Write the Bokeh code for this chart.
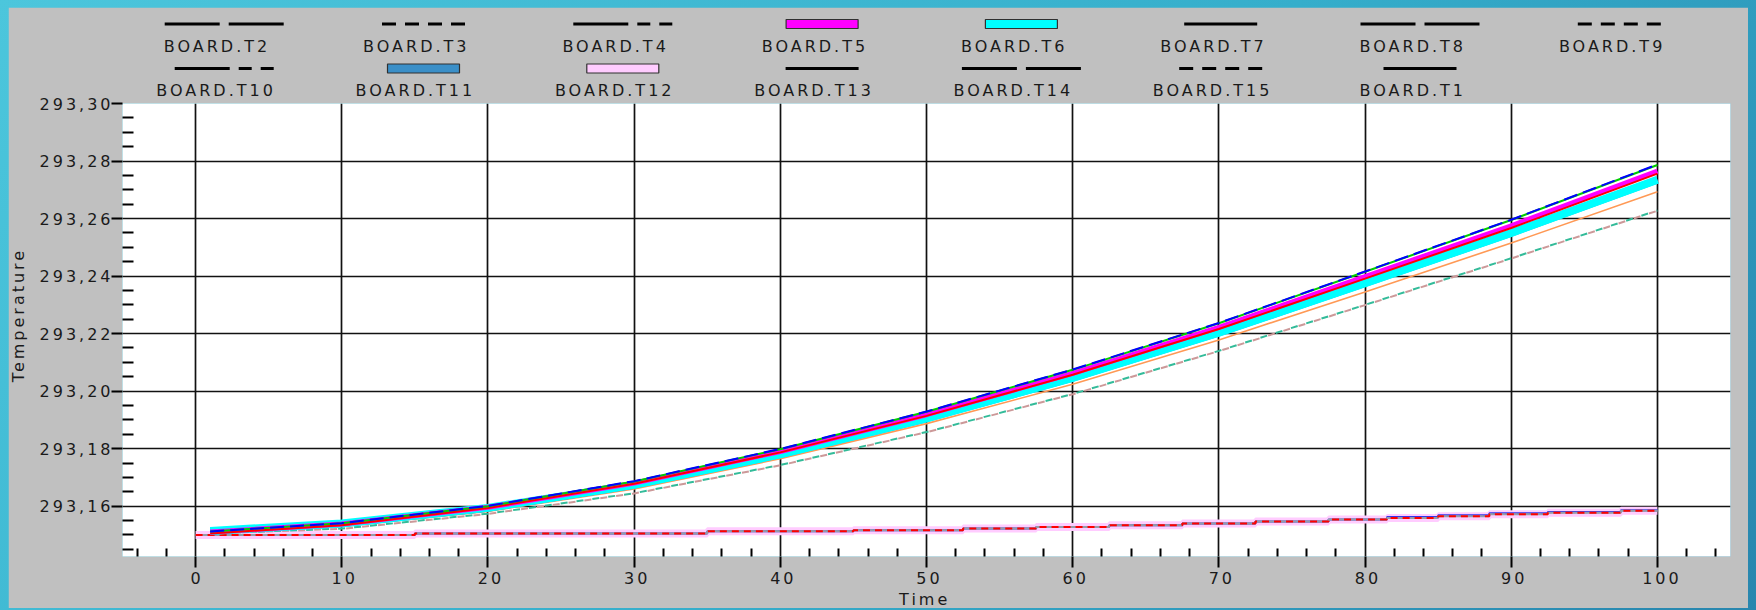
import math
from bokeh.plotting import figure
from bokeh.models import Range1d, FixedTicker, InlineStyleSheet
from bokeh.embed import file_html
from bokeh.resources import INLINE
from bokeh.core.properties import value

# ---------------- data ----------------
x_ticks = [0, 10, 20, 30, 40, 50, 60, 70, 80, 90, 100]
x_tick_labels = ["0", "10", "20", "30", "40", "50", "60", "70", "80", "90", "100"]
y_ticks = [293.16, 293.18, 293.20, 293.22, 293.24, 293.26, 293.28, 293.30]
y_tick_labels = ["293,16", "293,18", "293,20", "293,22", "293,24", "293,26", "293,28", "293,30"]
x_title = "Time"
y_title = "Temperature"

legend_row1 = ["BOARD.T2", "BOARD.T3", "BOARD.T4", "BOARD.T5", "BOARD.T6", "BOARD.T7", "BOARD.T8", "BOARD.T9"]
legend_row2 = ["BOARD.T10", "BOARD.T11", "BOARD.T12", "BOARD.T13", "BOARD.T14", "BOARD.T15", "BOARD.T1"]

# upper group (smooth rise)
upper_x = [1, 10, 20, 30, 40, 50, 60, 70, 80, 90, 100]
t2 = [293.1512, 293.1541, 293.1601, 293.1687, 293.1799, 293.1929, 293.2075, 293.2237, 293.2416, 293.2596, 293.2788]
t8 = [293.1512, 293.1541, 293.1600, 293.1686, 293.1798, 293.1928, 293.2074, 293.2236, 293.2415, 293.2595, 293.2786]
t5 = [293.1510, 293.1538, 293.1596, 293.1680, 293.1790, 293.1918, 293.2062, 293.2222, 293.2398, 293.2575, 293.2765]
t7 = [293.1505, 293.1534, 293.1594, 293.1678, 293.1787, 293.1914, 293.2057, 293.2216, 293.2391, 293.2567, 293.2756]
t11 = [293.1513, 293.1539, 293.1593, 293.1673, 293.1779, 293.1904, 293.2045, 293.2202, 293.2374, 293.2549, 293.2734]
t6 = [293.1514, 293.1540, 293.1594, 293.1674, 293.1780, 293.1905, 293.2046, 293.2203, 293.2375, 293.2550, 293.2735]
t13 = [293.1508, 293.1530, 293.1582, 293.1660, 293.1765, 293.1887, 293.2024, 293.2178, 293.2345, 293.2515, 293.2693]
t9 = [293.1505, 293.1522, 293.1574, 293.1645, 293.1743, 293.1858, 293.1990, 293.2140, 293.2300, 293.2462, 293.2628]
t3 = [293.1505, 293.1521, 293.1573, 293.1644, 293.1742, 293.1857, 293.1989, 293.2139, 293.2299, 293.2461, 293.2627]

# lower group (stepped, slow rise)
lower_x = [0, 15, 35, 45, 52.5, 57.5, 62.5, 67.5, 72.5, 77.5, 81.5, 85, 88.5, 92.5, 97.5, 100]
t12 = [293.1500, 293.1505, 293.1513, 293.1516, 293.1522, 293.1528, 293.1534, 293.1540, 293.1547, 293.1554, 293.1559, 293.1565, 293.1572, 293.1577, 293.1584, 293.1584]
t14 = [293.1500, 293.1505, 293.1513, 293.1516, 293.1522, 293.1528, 293.1534, 293.1540, 293.1547, 293.1554, 293.1559, 293.1565, 293.1572, 293.1577, 293.1584, 293.1584]
t15 = [293.1500, 293.1505, 293.1513, 293.1516, 293.1522, 293.1528, 293.1534, 293.1540, 293.1547, 293.1554, 293.1559, 293.1565, 293.1572, 293.1577, 293.1584, 293.1584]
t1 = [293.1500, 293.1505, 293.1513, 293.1516, 293.1522, 293.1528, 293.1534, 293.1540, 293.1547, 293.1554, 293.1562, 293.1568, 293.1575, 293.1580, 293.1586, 293.1586]
t4 = [293.1500, 293.1505, 293.1513, 293.1516, 293.1522, 293.1528, 293.1534, 293.1540, 293.1547, 293.1554, 293.1559, 293.1565, 293.1572, 293.1577, 293.1584, 293.1584]
t10 = [293.1500, 293.1505, 293.1513, 293.1516, 293.1522, 293.1528, 293.1534, 293.1540, 293.1547, 293.1554, 293.1559, 293.1565, 293.1572, 293.1577, 293.1584, 293.1584]

# ---------------- styles ----------------
GREY = "#c0c0c0"
FONT = "DejaVu Sans"
TXT = "#1a1a1a"
LETTER_SP = 3.0

legend_style = {
    "BOARD.T2": ("line", "55 9", 119), "BOARD.T3": ("line", "14 9", 83), "BOARD.T4": ("line", "55 9 13 9 13 9", 99),
    "BOARD.T5": ("rect", "#ff00ff", 72), "BOARD.T6": ("rect", "#00ffff", 72), "BOARD.T7": ("line", "solid", 73),
    "BOARD.T8": ("line", "55 9", 119), "BOARD.T9": ("line", "14 9", 83), "BOARD.T10": ("line", "55 9 13 9 13 9", 99),
    "BOARD.T11": ("rect", "#3a8fc8", 72), "BOARD.T12": ("rect", "#ffccff", 72), "BOARD.T13": ("line", "solid", 73),
    "BOARD.T14": ("line", "55 9", 119), "BOARD.T15": ("line", "14 9", 83), "BOARD.T1": ("line", "solid", 73),
}

# layout (page pixels): figure at (8, 7), 1740 x 601
FIG_W, FIG_H = 1740, 601
B_L, B_R, B_T, B_B = 114, 18, 96, 52
PAGE_X0, PAGE_Y0 = 8, 7
fl, fr = PAGE_X0 + B_L, PAGE_X0 + FIG_W - B_R
ft, fb = PAGE_Y0 + B_T, PAGE_Y0 + FIG_H - B_B

p = figure(width=FIG_W, height=FIG_H, x_range=Range1d(-5, 105), y_range=Range1d(293.1425, 293.30),
           output_backend="svg", toolbar_location=None,
           min_border_left=B_L, min_border_right=B_R, min_border_top=B_T, min_border_bottom=B_B,
           stylesheets=[InlineStyleSheet(css=":host { letter-spacing: %.1fpx; }" % LETTER_SP)])
p.background_fill_color = "white"
p.border_fill_color = GREY
p.outline_line_color = None

# ranges in page pixels, used to place the legend and titles in the margins
p.extra_x_ranges = {"px": Range1d(fl, fr)}
p.extra_y_ranges = {"py": Range1d(fb, ft)}

x_minor = [v for v in range(-4, 105, 2) if v % 10 != 0]
y_minor = [round(293.145 + 0.005 * i, 3) for i in range(32)]
y_minor = [v for v in y_minor if all(abs(v - t) > 1e-6 for t in y_ticks)]

p.xaxis.ticker = FixedTicker(ticks=x_ticks, minor_ticks=x_minor)
p.yaxis.ticker = FixedTicker(ticks=y_ticks, minor_ticks=y_minor)
p.xaxis.major_label_overrides = dict(zip(x_ticks, x_tick_labels))
p.yaxis.major_label_overrides = dict(zip(y_ticks, y_tick_labels))
p.ygrid.ticker = FixedTicker(ticks=y_ticks[:-1])

for ax in (p.xaxis[0], p.yaxis[0]):
    ax.axis_line_color = None
    ax.major_tick_out = 11
    ax.major_tick_in = 0
    ax.minor_tick_out = 0
    ax.major_tick_line_color = "black"
    ax.major_tick_line_width = 2
    ax.minor_tick_line_color = "black"
    ax.minor_tick_line_width = 2
    ax.major_label_text_font = FONT
    ax.major_label_text_font_size = "16px"
    ax.major_label_text_color = TXT
p.xaxis.minor_tick_in = 8
p.yaxis.minor_tick_in = 11
p.xaxis.major_label_standoff = 4
p.yaxis.major_label_standoff = 16

for g in (p.xgrid[0], p.ygrid[0]):
    g.grid_line_color = "#111111"
    g.grid_line_width = 1.7

# lower group
p.step(lower_x, t12, mode="after", line_color="#ffccff", line_width=8)
p.step(lower_x, t1, mode="after", line_color="#3333ee", line_width=2)
p.step(lower_x, t14, mode="after", line_color="#8fa0a8", line_width=2)
p.step(lower_x, t10, mode="after", line_color="#7799aa", line_width=1.5, line_dash="4 8")
p.step(lower_x, t4, mode="after", line_color="#9999aa", line_width=1.5, line_dash="4 8", line_dash_offset=6)
p.step(lower_x, t15, mode="after", line_color="#ff0000", line_width=2, line_dash="7 5")

# upper group
p.line(upper_x, t9, line_color="#33bb99", line_width=2, line_dash="7 9")
p.line(upper_x, t3, line_color="#cc9999", line_width=2, line_dash="7 9", line_dash_offset=8)
p.line(upper_x, t13, line_color="#ff9955", line_width=1.6)
p.line(upper_x, t11, line_color="#3a8fc8", line_width=7)
p.line(upper_x, t6, line_color="#00ffff", line_width=8)
p.line(upper_x, t5, line_color="#ff00ff", line_width=5)
p.line(upper_x, t7, line_color="#ff0000", line_width=2)
p.line(upper_x, t8, line_color="#00cc00", line_width=2)
p.line(upper_x, t2, line_color="#0000ff", line_width=2, line_dash="14 6")

kw = dict(x_range_name="px", y_range_name="py", level="overlay")
txt_kw = dict(text_font=value(FONT), text_font_size="16px", text_color=TXT,
              text_align="center", text_baseline="middle")

# legend in the top margin: glyph above, label below
col_x0, col_dx = 223.7, 199.3
rows = [(legend_row1, 23.5, 46.0), (legend_row2, 68.0, 89.5)]
for names, gy, ty in rows:
    xs = []
    for i, name in enumerate(names):
        cx = col_x0 + i * col_dx
        # compensate the drift that letter spacing gives to centred text
        xs.append(cx - 0.8 * LETTER_SP * len(name))
        kind, sty, L = legend_style[name]
        if kind == "rect":
            p.rect(x=cx, y=gy, width=L, height=9, fill_color=sty, line_color="#303030", line_width=1.2, **kw)
        else:
            p.line([cx - L / 2, cx + L / 2], [gy, gy], line_width=3, line_color="black", line_dash=sty, **kw)
    p.text(x=xs, y=[ty] * len(xs), text=names, **txt_kw, **kw)

# axis titles
p.text(x=[(fl + fr) / 2 - 0.65 * LETTER_SP * len(x_title)], y=[599], text=[x_title], **txt_kw, **kw)
p.text(x=[17.5], y=[331], text=[y_title], angle=math.pi / 2, **txt_kw, **kw)

html = file_html(p, INLINE, title="BOARD temperatures")
page_css = ("<style>html, body { margin: 0 !important; } "
            "html { background: #35aecb; } "
            "body { padding: 7px 0 0 8px !important; "
            "background: linear-gradient(135deg, #4cc6dc 0%, #35aecb 55%, #2886ae 100%) !important; }"
            "</style></head>")
html = html.replace("</head>", page_css, 1)
open("out.html", "w").write(html)
